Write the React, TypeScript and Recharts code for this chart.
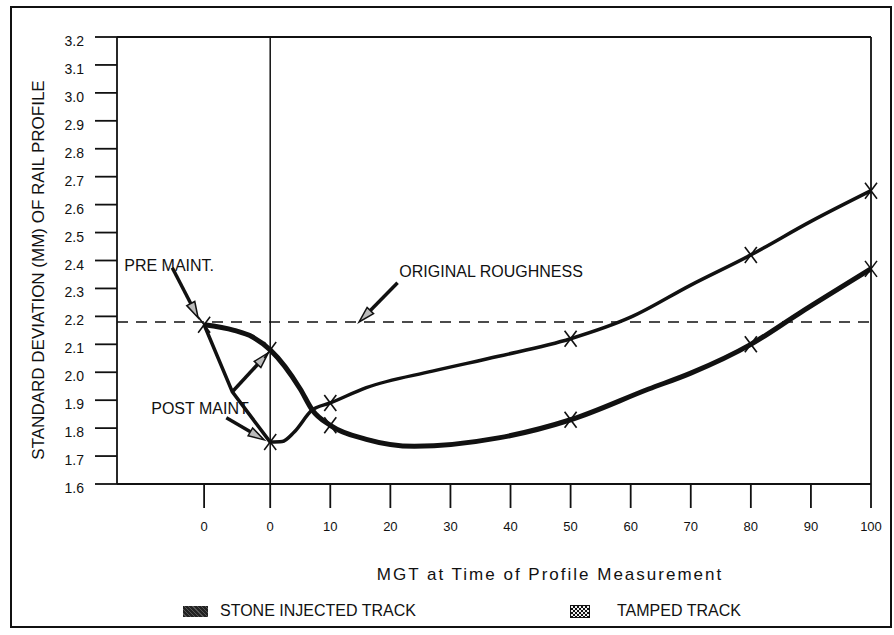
import React from "react"
import { LineChart, Line, XAxis, YAxis, ReferenceLine, ReferenceDot } from "recharts"

// MGT positions; the pre-maintenance reading sits left of zero and is also labelled "0"
const xTicks = [-11, 0, 10, 20, 30, 40, 50, 60, 70, 80, 90, 100]
const yTicks = [1.6, 1.7, 1.8, 1.9, 2.0, 2.1, 2.2, 2.3, 2.4, 2.5, 2.6, 2.7, 2.8, 2.9, 3.0, 3.1, 3.2]

// stone injected track (heavy line)
const stoneX = [-11, -6, -3, 0, 5, 7, 10, 16, 24, 38, 50, 63, 70, 80, 88, 100]
const stoneY = [2.17, 2.15, 2.127, 2.08, 1.94, 1.865, 1.81, 1.76, 1.735, 1.765, 1.83, 1.94, 1.997, 2.1, 2.21, 2.37]
const stoneMarked = [0, 10, 50, 80, 100]

// tamped track: straight drop from pre to post maintenance, then the growth curve
const tampedDropX = [-11, -6.3, 0]
const tampedDropY = [2.17, 1.93, 1.75]
const tampedX = [0, 2, 4, 7, 10, 16, 27, 38, 50, 60, 70, 80, 90, 100]
const tampedY = [1.75, 1.752, 1.786, 1.865, 1.89, 1.945, 2.004, 2.057, 2.12, 2.197, 2.312, 2.42, 2.54, 2.65]
const tampedMarked = [-11, 0, 10, 50, 80, 100]

const originalRoughness = 2.18

const notes = [
  { text: "PRE MAINT.", x: -24.3, y: 2.381 },
  { text: "POST MAINT", x: -19.8, y: 1.869 },
  { text: "ORIGINAL ROUGHNESS", x: 21.5, y: 2.36 },
]
const arrows = [
  { x1: -16.3, y1: 2.374, x2: -12, y2: 2.195 },
  { x1: 21.2, y1: 2.32, x2: 14.8, y2: 2.18 },
  { x1: -7.3, y1: 1.837, x2: -1, y2: 1.758 },
  { x1: -6.3, y1: 1.93, x2: -0.3, y2: 2.07 },
]

const ink = "#111"
const font = "'Liberation Sans', Arial, sans-serif"

const toRows = (xs: number[], ys: number[], marked: number[]) =>
  xs.map((x, i) => ({ x, y: ys[i], mark: marked.includes(x) }))

const stoneData = toRows(stoneX, stoneY, stoneMarked)
const tampedDropData = toRows(tampedDropX, tampedDropY, tampedMarked)
const tampedData = toRows(tampedX, tampedY, tampedMarked.filter((v) => v > 0))

function CrossDot(props: any) {
  const { cx, cy, payload, index } = props
  if (!payload || !payload.mark || cx == null) return <g key={`d-${index}`} />
  return (
    <g key={`d-${index}`}>
      <line x1={cx - 6} y1={cy - 8} x2={cx + 6} y2={cy + 8} stroke={ink} strokeWidth={1.6} />
      <line x1={cx + 6} y1={cy - 8} x2={cx - 6} y2={cy + 8} stroke={ink} strokeWidth={1.6} />
    </g>
  )
}

function Arrow(props: any) {
  const { x1, y1, x2, y2 } = props
  const len = Math.hypot(x2 - x1, y2 - y1) || 1
  const ux = (x2 - x1) / len
  const uy = (y2 - y1) / len
  const bx = x2 - ux * 16
  const by = y2 - uy * 16
  const w = 4.5
  const pts = `${x2},${y2} ${bx - uy * w},${by + ux * w} ${bx + uy * w},${by - ux * w}`
  return (
    <g>
      <line x1={x1} y1={y1} x2={bx} y2={by} stroke={ink} strokeWidth={3.5} />
      <polygon points={pts} fill="#bbb" stroke={ink} strokeWidth={1.5} />
    </g>
  )
}

const YTick = (props: any) => (
  <text x={props.x} y={props.y} dy={4} textAnchor="end" dominantBaseline="central"
    fontSize={14} fontFamily={font} fill={ink}>
    {Number(props.payload.value).toFixed(1)}
  </text>
)

const XTick = (props: any) => (
  <text x={props.x} y={props.y} dy={10} textAnchor="middle" dominantBaseline="central"
    fontSize={13} fontFamily={font} fill={ink}>
    {props.payload.value < 0 ? "0" : String(props.payload.value)}
  </text>
)

export default function App() {
  return (
    <div style={{ position: "relative", width: 894, height: 635, background: "#fff", fontFamily: font }}>
      <style>{`body{margin:0}`}</style>
      <LineChart width={894} height={635} margin={{ top: 37, right: 23, left: 0, bottom: 0 }}>
        <XAxis
          type="number"
          dataKey="x"
          domain={[-25.5, 100]}
          ticks={xTicks}
          interval={0}
          height={151}
          tickSize={24}
          tickMargin={8}
          tick={<XTick />}
          axisLine={{ stroke: ink, strokeWidth: 1.8 }}
          tickLine={{ stroke: ink, strokeWidth: 1.8 }}
          label={{
            content: () => (
              <text x={550} y={574} textAnchor="middle" dominantBaseline="central"
                fontSize={17} letterSpacing={2} fontFamily={font} fill={ink}>
                MGT at Time of Profile Measurement
              </text>
            ),
          }}
        />
        <YAxis
          type="number"
          domain={[1.6, 3.2]}
          ticks={yTicks}
          interval={0}
          width={117}
          tickSize={22}
          tickMargin={11}
          tick={<YTick />}
          axisLine={{ stroke: ink, strokeWidth: 1.8 }}
          tickLine={{ stroke: ink, strokeWidth: 1.8 }}
          label={{
            content: () => (
              <text transform="translate(38,270) rotate(-90)" textAnchor="middle" dominantBaseline="central"
                fontSize={17} fontFamily={font} fill={ink}>
                STANDARD DEVIATION (MM) OF RAIL PROFILE
              </text>
            ),
          }}
        />
        <ReferenceLine y={3.2} stroke={ink} strokeWidth={1.8} />
        <ReferenceLine x={100} stroke={ink} strokeWidth={1.8} />
        <ReferenceLine x={0} stroke={ink} strokeWidth={1.5} />
        <ReferenceLine y={originalRoughness} stroke={ink} strokeWidth={1.5} strokeDasharray="11 8" />

        <Line data={tampedDropData} dataKey="y" type="linear" stroke={ink} strokeWidth={3.5}
          dot={CrossDot} activeDot={false} isAnimationActive={false} />
        <Line data={tampedData} dataKey="y" type="monotone" stroke={ink} strokeWidth={3.5}
          dot={CrossDot} activeDot={false} isAnimationActive={false} />
        <Line data={stoneData} dataKey="y" type="monotone" stroke={ink} strokeWidth={5}
          dot={CrossDot} activeDot={false} isAnimationActive={false} />

        {arrows.map((a, i) => (
          <ReferenceLine key={`a-${i}`} segment={[{ x: a.x1, y: a.y1 }, { x: a.x2, y: a.y2 }]} shape={Arrow} />
        ))}
        {notes.map((n) => (
          <ReferenceDot key={n.text} x={n.x} y={n.y} r={0}
            shape={(p: any) => (
              <text x={p.cx} y={p.cy} dominantBaseline="central" fontSize={16} fontFamily={font} fill={ink}>
                {n.text}
              </text>
            )}
          />
        ))}
      </LineChart>

      <div style={{ position: "absolute", left: 183, top: 606, width: 25, height: 11, background: "repeating-linear-gradient(45deg,#222 0 2px,#555 2px 3px)" }} />
      <div style={{ position: "absolute", left: 220, top: 602, fontSize: 16, color: ink }}>STONE INJECTED TRACK</div>
      <div style={{ position: "absolute", left: 570, top: 605, width: 20, height: 13, background: "repeating-conic-gradient(#111 0 25%, #eee 0 50%) 0 0/4px 4px", border: `1px solid ${ink}`, boxSizing: "border-box" }} />
      <div style={{ position: "absolute", left: 617, top: 602, fontSize: 16, color: ink }}>TAMPED TRACK</div>

      <div style={{ position: "absolute", left: 10, top: 6, width: 882, height: 622, border: `2px solid ${ink}`, boxSizing: "border-box", pointerEvents: "none" }} />
    </div>
  )
}
